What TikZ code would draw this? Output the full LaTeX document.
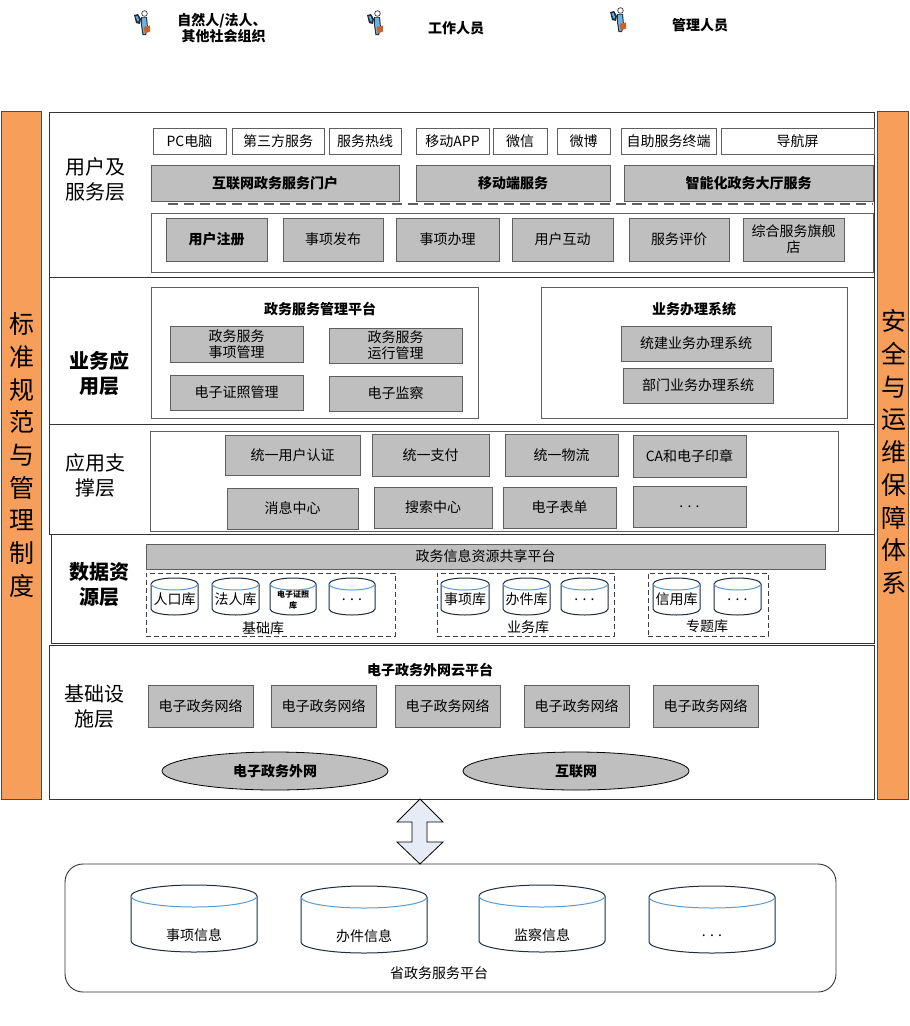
\documentclass[tikz,border=0pt]{standalone}
\usepackage{fontspec}
\setmainfont{Noto Sans CJK SC}
\usetikzlibrary{shapes.geometric}
\definecolor{barfill}{HTML}{F79E5B}
\definecolor{boxgrey}{HTML}{BFBFBF}
\definecolor{edgegrey}{HTML}{5F5F5F}
\definecolor{rimblue}{HTML}{5B9BD5}
\definecolor{cyledge}{HTML}{1F2D3D}
\definecolor{arrowfill}{HTML}{E6ECF6}
\definecolor{iconblue}{HTML}{6FB0DC}
\definecolor{iconcase}{HTML}{C8642B}
\tikzset{
  x=1pt,y=-1pt,
  txt/.style={font=\fontsize{14}{16}\selectfont,align=center,text=black,inner sep=0pt},
  frame/.style={draw=edgegrey,line width=1pt,fill=white,inner sep=0pt,outer sep=0pt},
  layerbox/.style={draw=black!80,line width=0.9pt,fill=white,inner sep=0pt,outer sep=0pt},
  whitebox/.style={txt,draw=edgegrey,line width=1pt,fill=white,outer sep=0pt},
  greybox/.style={txt,draw=edgegrey,line width=1pt,fill=boxgrey,outer sep=0pt},
  greybold/.style={greybox,font=\fontsize{14}{16}\selectfont\bfseries},
  dashbox/.style={draw=black!75,line width=0.8pt,dash pattern=on 5pt off 3pt,inner sep=0pt,outer sep=0pt},
  sidebar/.style={draw=black!70,line width=0.9pt,fill=barfill,inner sep=0pt,outer sep=0pt},
  layertxt/.style={txt,font=\fontsize{20}{25}\selectfont},
  layerbold/.style={txt,font=\fontsize{20}{25}\bfseries\selectfont},
  sidetxt/.style={txt,font=\fontsize{25}{32.7}\selectfont},
  boldtxt/.style={txt,font=\fontsize{14}{16}\bfseries\selectfont},
  oval/.style={ellipse,draw=black,line width=0.8pt,fill=boxgrey,txt,font=\fontsize{14}{16}\bfseries\selectfont,outer sep=0pt}
}
% name, style, x1, y1, x2, y2, text
\newcommand{\bx}[7]{\node[#2,minimum width={(#5-#3)*1pt},minimum height={(#6-#4)*1pt}] (#1) at ({(#3+#5)/2},{(#4+#6)/2}) {#7};}
% name, x1, y1, x2, y2, ry, text style, text
\newcommand{\cyl}[8]{%
  \filldraw[fill=white,draw=cyledge,line width=1pt] (#2,#3+#6) arc[start angle=180,end angle=360,x radius={(#4-#2)/2},y radius=#6] -- (#4,#5-#6) arc[start angle=0,end angle=180,x radius={(#4-#2)/2},y radius=#6] -- cycle;
  \draw[rimblue,line width=1pt] (#2,#3+#6) arc[start angle=180,end angle=0,x radius={(#4-#2)/2},y radius=#6];
  \node[#7] (#1) at ({(#2+#4)/2},{(#3+#5)/2+#6/2}) {#8};}
% person icon, centred on x,y
\newcommand{\person}[2]{%
  \begin{scope}[shift={(#1,#2)}]
    \fill[cyledge] (-8,-7) -- (-4,-8) -- (-1,-3) -- (-2,2) -- (-6,1) -- cycle;
    \fill[iconblue] (-6.5,-5.5) -- (-4.5,-6) -- (-3,-2) -- (-4,0) -- cycle;
    \fill[cyledge] (-1,-5) -- (5,-5) -- (6,6) -- (4,13) -- (0.5,13) -- (-1,3) -- cycle;
    \fill[iconblue] (0,-4.5) -- (4,-4.5) -- (5,5) -- (3.2,12) -- (1.5,12) -- (0,3) -- cycle;
    \fill[iconcase] (1.5,5) -- (8,3.5) -- (8,9.5) -- (3,11.5) -- cycle;
    \filldraw[fill=white,draw=black!80,line width=0.7pt] (2.5,-8.5) circle[radius=2.8];
  \end{scope}}
\begin{document}
\begin{tikzpicture}
\useasboundingbox (0,0) rectangle (910,1026);
% actors
\person{142}{22}\person{375}{22}\person{618}{19}
\node[boldtxt] (a1) at (222,28) {自然人/法人、\\[-0.5pt]\ 其他社会组织};
\node[boldtxt] (a2) at (456,28) {工作人员};
\node[boldtxt] (a3) at (700,25) {管理人员};
% side bars
\bx{sl}{sidebar}{1}{111}{41}{799}{}
\bx{sr}{sidebar}{877}{111}{908}{799}{}
\node[sidetxt] (slt) at (22,455) {标\\准\\规\\范\\与\\管\\理\\制\\度};
\node[sidetxt] (srt) at (894,452) {安\\全\\与\\运\\维\\保\\障\\体\\系};
% layers
\bx{l1}{layerbox}{49}{112}{874}{277}{}
\bx{l2}{layerbox}{49}{277}{874}{424}{}
\bx{l3}{layerbox}{49}{424}{874}{534}{}
\bx{l4}{layerbox}{51}{534}{874}{643}{}
\bx{l5}{layerbox}{49}{645}{874}{799}{}
\node[layertxt] (t1) at (95,179) {用户及\\服务层};
\node[layerbold] (t2) at (99,373) {业务应\\用层};
\node[layertxt] (t3) at (95,475) {应用支\\撑层};
\node[layerbold] (t4) at (99,585) {数据资\\源层};
\node[layertxt] (t5) at (94,706) {基础设\\施层};
% user layer
\bx{u1}{whitebox}{153}{128}{226}{154}{PC电脑}
\bx{u2}{whitebox}{232}{128}{324}{154}{第三方服务}
\bx{u3}{whitebox}{329}{128}{401}{154}{服务热线}
\bx{u4}{whitebox}{416}{128}{489}{154}{移动APP}
\bx{u5}{whitebox}{493}{128}{547}{154}{微信}
\bx{u6}{whitebox}{557}{128}{610}{154}{微博}
\bx{u7}{whitebox}{621}{128}{716}{154}{自助服务终端}
\bx{u8}{whitebox}{721}{128}{874}{154}{导航屏}
\bx{p1}{greybold}{151}{165}{399}{201}{互联网政务服务门户}
\bx{p2}{greybold}{416}{165}{610}{201}{移动端服务}
\bx{p3}{greybold}{624}{165}{873}{201}{智能化政务大厅服务}
\coordinate (dl) at (168,204);
\coordinate (dr) at (873,204);
\draw[edgegrey,line width=1.2pt,dash pattern=on 10pt off 6pt] (dl) -- (dr);
\bx{ubox}{frame}{151}{213}{873}{272}{}
\bx{f1}{greybold}{166}{218}{267}{261}{用户注册}
\bx{f2}{greybox}{283}{218}{383}{261}{事项发布}
\bx{f3}{greybox}{396}{218}{499}{261}{事项办理}
\bx{f4}{greybox}{512}{218}{613}{261}{用户互动}
\bx{f5}{greybox}{629}{218}{729}{261}{服务评价}
\bx{f6}{greybox}{743}{218}{844}{261}{综合服务旗舰\\店}
% business layer
\bx{bl}{frame}{151}{287}{478}{418}{}
\node[boldtxt] (blt) at (320,309) {政务服务管理平台};
\bx{b1}{greybox}{170}{326}{303}{362}{政务服务\\事项管理}
\bx{b2}{greybox}{329}{328}{462}{363}{政务服务\\运行管理}
\bx{b3}{greybox}{170}{375}{303}{410}{电子证照管理}
\bx{b4}{greybox}{329}{376}{462}{411}{电子监察}
\bx{br}{frame}{541}{287}{847}{418}{}
\node[boldtxt] (brt) at (694,309) {业务办理系统};
\bx{b5}{greybox}{621}{326}{771}{361}{统建业务办理系统}
\bx{b6}{greybox}{623}{368}{773}{403}{部门业务办理系统}
% support layer
\bx{sbox}{frame}{150}{431}{838}{531}{}
\bx{s1}{greybox}{225}{435}{360}{475}{统一用户认证}
\bx{s2}{greybox}{372}{434}{489}{476}{统一支付}
\bx{s3}{greybox}{505}{434}{618}{476}{统一物流}
\bx{s4}{greybox}{633}{435}{746}{477}{CA和电子印章}
\bx{s5}{greybox}{227}{488}{358}{529}{消息中心}
\bx{s6}{greybox}{374}{487}{492}{528}{搜索中心}
\bx{s7}{greybox}{503}{487}{616}{528}{电子表单}
\bx{s8}{greybox,text depth=-3pt}{633}{486}{746}{527}{. . .}
% data layer
\bx{d0}{greybox}{146}{544}{825}{569}{政务信息资源共享平台}
\bx{dg1}{dashbox}{146}{573}{395}{636}{}
\bx{dg2}{dashbox}{437}{573}{614}{636}{}
\bx{dg3}{dashbox}{648}{573}{768}{636}{}
\cyl{c1}{151}{578}{198}{615}{6}{txt}{人口库}
\cyl{c2}{212}{578}{259}{615}{6}{txt}{法人库}
\cyl{c3}{270}{578}{316}{615}{6}{txt,font=\fontsize{8}{11}\bfseries\selectfont}{电子证照\\库}
\cyl{c4}{329}{578}{375}{615}{6}{txt}{. . .}
\cyl{c5}{441}{578}{489}{615}{6}{txt}{事项库}
\cyl{c6}{503}{578}{550}{615}{6}{txt}{办件库}
\cyl{c7}{561}{578}{608}{615}{6}{txt}{. . .}
\cyl{c8}{653}{578}{700}{615}{6}{txt}{信用库}
\cyl{c9}{714}{578}{761}{615}{6}{txt}{. . .}
\node[txt] (g1) at (263,628) {基础库};
\node[txt] (g2) at (528,627) {业务库};
\node[txt] (g3) at (707,626) {专题库};
% infrastructure layer
\node[boldtxt] (it) at (430,670) {电子政务外网云平台};
\bx{i1}{greybox}{148}{685}{253}{727}{电子政务网络}
\bx{i2}{greybox}{271}{685}{376}{727}{电子政务网络}
\bx{i3}{greybox}{395}{685}{500}{727}{电子政务网络}
\bx{i4}{greybox}{524}{685}{629}{727}{电子政务网络}
\bx{i5}{greybox}{653}{685}{758}{727}{电子政务网络}
\bx{e1}{oval}{162}{752}{388}{790}{电子政务外网}
\bx{e2}{oval}{463}{752}{689}{790}{互联网}
% province platform
\node[draw=black!80,line width=0.9pt,rounded corners=18pt,inner sep=0pt,minimum width=771pt,minimum height=128pt] (pv) at (450.5,928) {};
\draw[black,line width=0.8pt,fill=arrowfill] (420,799) -- (443,822) -- (427,822) -- (427,842) -- (443,842) -- (420,864) -- (397,842) -- (412,842) -- (412,822) -- (397,822) -- cycle;
\cyl{v1}{131}{885}{257}{952}{11}{txt,yshift=-11pt}{事项信息}
\cyl{v2}{301}{886}{427}{953}{11}{txt,yshift=-11pt}{办件信息}
\cyl{v3}{479}{885}{605}{952}{11}{txt,yshift=-11pt}{监察信息}
\cyl{v4}{649}{886}{775}{953}{11}{txt,yshift=-11pt}{. . .}
\node[txt] (pvt) at (439,973) {省政务服务平台};
\end{tikzpicture}
\end{document}
